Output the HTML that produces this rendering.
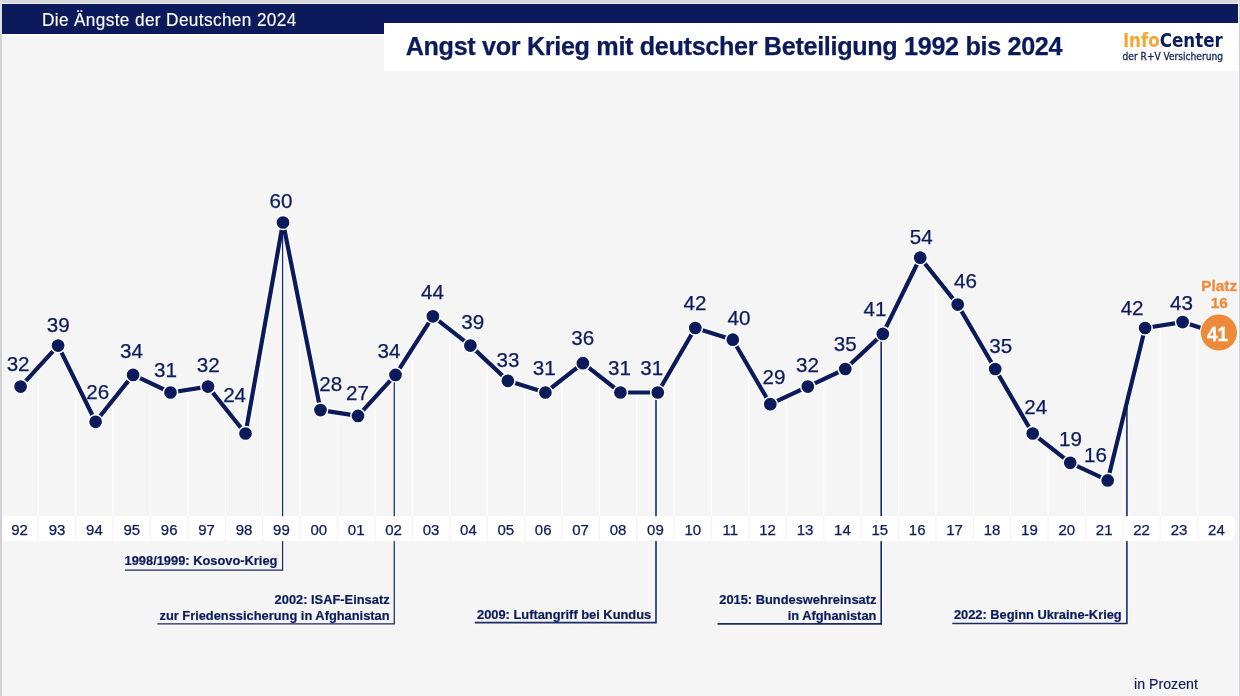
<!DOCTYPE html>
<html lang="de">
<head>
<meta charset="utf-8">
<title>Die Ängste der Deutschen 2024 – Angst vor Krieg mit deutscher Beteiligung</title>
<style>
html,body{margin:0;padding:0}
body{width:1240px;height:696px;position:relative;overflow:hidden;background:#f5f5f5;font-family:"Liberation Sans",sans-serif}
.frame-top{position:absolute;left:0;top:0;width:1240px;height:4px;background:linear-gradient(#d9d9db 0,#d9d9db 2.6px,#ebebed 2.6px,#ebebed 4px)}
.frame-left{position:absolute;left:0;top:0;width:2px;height:696px;background:linear-gradient(#dfdfe0 0,#dfdfe0 34px,#d2d2d5 34px,#d2d2d5 100%)}
.frame-right{position:absolute;left:1237.7px;top:0;width:2.3px;height:696px;background:linear-gradient(90deg,#fbfbfb 0,#fbfbfb 1px,#d4d4d8 1px,#cfcfd3 100%)}
.bar{position:absolute;left:2px;top:4px;width:1236px;height:29.9px;background:#0b1a5b}
.barline{position:absolute;left:2px;top:33.9px;width:382px;height:2.2px;background:#fdfdfd}
.title{position:absolute;left:384px;top:22.8px;width:854px;height:47.8px;background:#fff}
</style>
</head>
<body>
<div class="bar"></div><div class="barline"></div>
<div class="title"></div>
<svg width="1240" height="696" viewBox="0 0 1240 696" style="position:absolute;left:0;top:0;will-change:transform" font-family="'Liberation Sans', sans-serif">
<g stroke="#ffffff" stroke-width="1.2">
<line x1="38.3" y1="367.2" x2="38.3" y2="516.2"/>
<line x1="75.7" y1="381.4" x2="75.7" y2="516.2"/>
<line x1="113.1" y1="399.9" x2="113.1" y2="516.2"/>
<line x1="150.5" y1="383.1" x2="150.5" y2="516.2"/>
<line x1="187.9" y1="389.8" x2="187.9" y2="516.2"/>
<line x1="225.3" y1="408.2" x2="225.3" y2="516.2"/>
<line x1="262.7" y1="336.7" x2="262.7" y2="516.2"/>
<line x1="300.1" y1="308.1" x2="300.1" y2="516.2"/>
<line x1="337.5" y1="412.7" x2="337.5" y2="516.2"/>
<line x1="374.9" y1="397.4" x2="374.9" y2="516.2"/>
<line x1="412.3" y1="348.5" x2="412.3" y2="516.2"/>
<line x1="449.7" y1="329.4" x2="449.7" y2="516.2"/>
<line x1="487.1" y1="361.2" x2="487.1" y2="516.2"/>
<line x1="524.5" y1="385.9" x2="524.5" y2="516.2"/>
<line x1="561.9" y1="379.6" x2="561.9" y2="516.2"/>
<line x1="599.3" y1="376.0" x2="599.3" y2="516.2"/>
<line x1="636.7" y1="392.5" x2="636.7" y2="516.2"/>
<line x1="674.1" y1="364.5" x2="674.1" y2="516.2"/>
<line x1="711.5" y1="333.1" x2="711.5" y2="516.2"/>
<line x1="748.9" y1="367.4" x2="748.9" y2="516.2"/>
<line x1="786.3" y1="396.7" x2="786.3" y2="516.2"/>
<line x1="823.7" y1="379.1" x2="823.7" y2="516.2"/>
<line x1="861.1" y1="354.2" x2="861.1" y2="516.2"/>
<line x1="898.5" y1="301.9" x2="898.5" y2="516.2"/>
<line x1="935.9" y1="277.3" x2="935.9" y2="516.2"/>
<line x1="973.3" y1="331.3" x2="973.3" y2="516.2"/>
<line x1="1010.7" y1="395.7" x2="1010.7" y2="516.2"/>
<line x1="1048.1" y1="445.5" x2="1048.1" y2="516.2"/>
<line x1="1085.5" y1="470.0" x2="1085.5" y2="516.2"/>
<line x1="1122.9" y1="418.5" x2="1122.9" y2="516.2"/>
<line x1="1160.3" y1="325.6" x2="1160.3" y2="516.2"/>
<line x1="1197.7" y1="326.9" x2="1197.7" y2="516.2"/>
</g>
<polyline fill="none" stroke="#fcfcfc" stroke-width="6.8" stroke-linejoin="round" stroke-linecap="round" points="20.6,386.6 58.1,345.6 95.6,421.8 133.1,374.9 170.5,392.5 208.0,386.6 245.5,433.5 283.0,222.5 320.5,410.1 358.0,415.9 395.5,374.9 432.9,316.3 470.4,345.6 507.9,380.8 545.4,392.5 582.9,363.2 620.4,392.5 657.8,392.5 695.3,328.0 732.8,339.7 770.3,404.2 807.8,386.6 845.3,369.0 882.8,333.9 920.2,257.7 957.7,304.6 995.2,369.0 1032.7,433.5 1070.2,462.8 1107.7,480.4 1145.1,328.0 1182.6,322.1 1220.1,333.9"/>
<g fill="none" stroke="#fbfbfb" stroke-linejoin="miter">
<polyline stroke-width="1.2" points="283.8,222.5 283.8,571.2 125.0,571.2"/>
<polyline stroke-width="1.2" points="395.5,374.9 395.5,625.0 157.3,625.0"/>
<polyline stroke-width="1.2" points="657.4,392.5 657.4,624.0 474.8,624.0"/>
<polyline stroke-width="1.2" points="882.6,333.9 882.6,625.2 717.5,625.2"/>
<polyline stroke-width="1.2" points="1128.2,398.0 1128.2,624.9 952.3,624.9"/>
</g>
<g fill="none" stroke="#1b2a6b" stroke-linejoin="miter">
<polyline stroke-width="1.25" points="282.6,222.5 282.6,570.0 125.0,570.0"/>
<polyline stroke-width="1.25" points="394.3,374.9 394.3,623.8 157.3,623.8"/>
<polyline stroke-width="1.6" points="656.0,392.5 656.0,622.6 474.8,622.6"/>
<polyline stroke-width="1.6" points="881.2,333.9 881.2,623.9 717.5,623.9"/>
<polyline stroke-width="1.6" points="1126.9,398.0 1126.9,623.5 952.3,623.5"/>
</g>
<polyline fill="none" stroke="#0b1a5b" stroke-width="4.2" stroke-linejoin="round" stroke-linecap="round" points="20.6,386.6 58.1,345.6 95.6,421.8 133.1,374.9 170.5,392.5 208.0,386.6 245.5,433.5 283.0,222.5 320.5,410.1 358.0,415.9 395.5,374.9 432.9,316.3 470.4,345.6 507.9,380.8 545.4,392.5 582.9,363.2 620.4,392.5 657.8,392.5 695.3,328.0 732.8,339.7 770.3,404.2 807.8,386.6 845.3,369.0 882.8,333.9 920.2,257.7 957.7,304.6 995.2,369.0 1032.7,433.5 1070.2,462.8 1107.7,480.4 1145.1,328.0 1182.6,322.1 1220.1,333.9"/>
<g fill="#0b1a5b" stroke="#fcfcfc" stroke-width="1.5">
<circle cx="20.6" cy="386.6" r="7.1"/>
<circle cx="58.1" cy="345.6" r="7.1"/>
<circle cx="95.6" cy="421.8" r="7.1"/>
<circle cx="133.1" cy="374.9" r="7.1"/>
<circle cx="170.5" cy="392.5" r="7.1"/>
<circle cx="208.0" cy="386.6" r="7.1"/>
<circle cx="245.5" cy="433.5" r="7.1"/>
<circle cx="283.0" cy="222.5" r="7.1"/>
<circle cx="320.5" cy="410.1" r="7.1"/>
<circle cx="358.0" cy="415.9" r="7.1"/>
<circle cx="395.5" cy="374.9" r="7.1"/>
<circle cx="432.9" cy="316.3" r="7.1"/>
<circle cx="470.4" cy="345.6" r="7.1"/>
<circle cx="507.9" cy="380.8" r="7.1"/>
<circle cx="545.4" cy="392.5" r="7.1"/>
<circle cx="582.9" cy="363.2" r="7.1"/>
<circle cx="620.4" cy="392.5" r="7.1"/>
<circle cx="657.8" cy="392.5" r="7.1"/>
<circle cx="695.3" cy="328.0" r="7.1"/>
<circle cx="732.8" cy="339.7" r="7.1"/>
<circle cx="770.3" cy="404.2" r="7.1"/>
<circle cx="807.8" cy="386.6" r="7.1"/>
<circle cx="845.3" cy="369.0" r="7.1"/>
<circle cx="882.8" cy="333.9" r="7.1"/>
<circle cx="920.2" cy="257.7" r="7.1"/>
<circle cx="957.7" cy="304.6" r="7.1"/>
<circle cx="995.2" cy="369.0" r="7.1"/>
<circle cx="1032.7" cy="433.5" r="7.1"/>
<circle cx="1070.2" cy="462.8" r="7.1"/>
<circle cx="1107.7" cy="480.4" r="7.1"/>
<circle cx="1145.1" cy="328.0" r="7.1"/>
<circle cx="1182.6" cy="322.1" r="7.1"/>
</g>
<g fill="#ffffff">
<rect x="2.0" y="516.2" width="35.6" height="24.9"/>
<rect x="39.0" y="516.2" width="36.0" height="24.9"/>
<rect x="76.4" y="516.2" width="36.0" height="24.9"/>
<rect x="113.8" y="516.2" width="36.0" height="24.9"/>
<rect x="151.2" y="516.2" width="36.0" height="24.9"/>
<rect x="188.6" y="516.2" width="36.0" height="24.9"/>
<rect x="226.0" y="516.2" width="36.0" height="24.9"/>
<rect x="263.4" y="516.2" width="36.0" height="24.9"/>
<rect x="300.8" y="516.2" width="36.0" height="24.9"/>
<rect x="338.2" y="516.2" width="36.0" height="24.9"/>
<rect x="375.6" y="516.2" width="36.0" height="24.9"/>
<rect x="413.0" y="516.2" width="36.0" height="24.9"/>
<rect x="450.4" y="516.2" width="36.0" height="24.9"/>
<rect x="487.8" y="516.2" width="36.0" height="24.9"/>
<rect x="525.2" y="516.2" width="36.0" height="24.9"/>
<rect x="562.6" y="516.2" width="36.0" height="24.9"/>
<rect x="600.0" y="516.2" width="36.0" height="24.9"/>
<rect x="637.4" y="516.2" width="36.0" height="24.9"/>
<rect x="674.8" y="516.2" width="36.0" height="24.9"/>
<rect x="712.2" y="516.2" width="36.0" height="24.9"/>
<rect x="749.6" y="516.2" width="36.0" height="24.9"/>
<rect x="787.0" y="516.2" width="36.0" height="24.9"/>
<rect x="824.4" y="516.2" width="36.0" height="24.9"/>
<rect x="861.8" y="516.2" width="36.0" height="24.9"/>
<rect x="899.2" y="516.2" width="36.0" height="24.9"/>
<rect x="936.6" y="516.2" width="36.0" height="24.9"/>
<rect x="974.0" y="516.2" width="36.0" height="24.9"/>
<rect x="1011.4" y="516.2" width="36.0" height="24.9"/>
<rect x="1048.8" y="516.2" width="36.0" height="24.9"/>
<rect x="1086.2" y="516.2" width="36.0" height="24.9"/>
<rect x="1123.6" y="516.2" width="36.0" height="24.9"/>
<rect x="1161.0" y="516.2" width="36.0" height="24.9"/>
<polygon points="1198.4,516.2 1232.0,516.2 1236.7,528.7 1232.0,541.1 1198.4,541.1"/>
</g>
<g fill="#0b1a5b" stroke="#0b1a5b" stroke-width="0.25" font-size="15" text-anchor="middle">
<text x="19.6" y="534.7">92</text>
<text x="57.0" y="534.7">93</text>
<text x="94.4" y="534.7">94</text>
<text x="131.8" y="534.7">95</text>
<text x="169.2" y="534.7">96</text>
<text x="206.6" y="534.7">97</text>
<text x="244.0" y="534.7">98</text>
<text x="281.4" y="534.7">99</text>
<text x="318.8" y="534.7">00</text>
<text x="356.2" y="534.7">01</text>
<text x="393.6" y="534.7">02</text>
<text x="431.0" y="534.7">03</text>
<text x="468.4" y="534.7">04</text>
<text x="505.8" y="534.7">05</text>
<text x="543.2" y="534.7">06</text>
<text x="580.6" y="534.7">07</text>
<text x="618.0" y="534.7">08</text>
<text x="655.4" y="534.7">09</text>
<text x="692.8" y="534.7">10</text>
<text x="730.2" y="534.7">11</text>
<text x="767.6" y="534.7">12</text>
<text x="805.0" y="534.7">13</text>
<text x="842.4" y="534.7">14</text>
<text x="879.8" y="534.7">15</text>
<text x="917.2" y="534.7">16</text>
<text x="954.6" y="534.7">17</text>
<text x="992.0" y="534.7">18</text>
<text x="1029.4" y="534.7">19</text>
<text x="1066.8" y="534.7">20</text>
<text x="1104.2" y="534.7">21</text>
<text x="1141.6" y="534.7">22</text>
<text x="1179.0" y="534.7">23</text>
<text x="1216.4" y="534.7">24</text>
</g>
<circle cx="1218.9" cy="332.5" r="19.2" fill="#fcfcfc"/>
<circle cx="1218.9" cy="332.5" r="18.1" fill="#ee8b3b"/>
<text transform="translate(1217.4 340.6) scale(0.91 1)" font-size="20.7" font-weight="700" fill="#ffffff" stroke="#ffffff" stroke-width="0.35" text-anchor="middle">41</text>
<g fill="#ee8b3b" stroke="#ee8b3b" stroke-width="0.3" font-size="15.4" font-weight="700" text-anchor="middle"><text x="1219.2" y="290.5">Platz</text><text x="1219.3" y="308.3">16</text></g>
<g fill="#0b1a5b" stroke="#0b1a5b" stroke-width="0.25" font-size="20.6" text-anchor="middle">
<text x="18.1" y="370.8">32</text>
<text x="58.2" y="332.4">39</text>
<text x="97.8" y="398.5">26</text>
<text x="131.4" y="358.4">34</text>
<text x="165.5" y="376.8">31</text>
<text x="208.2" y="371.6">32</text>
<text x="234.6" y="402.0">24</text>
<text x="281.0" y="207.5">60</text>
<text x="330.7" y="391.3">28</text>
<text x="357.5" y="400.3">27</text>
<text x="389.0" y="357.5">34</text>
<text x="432.4" y="298.5">44</text>
<text x="472.7" y="328.9">39</text>
<text x="508.0" y="366.8">33</text>
<text x="544.2" y="374.9">31</text>
<text x="582.7" y="345.2">36</text>
<text x="619.4" y="375.0">31</text>
<text x="651.8" y="375.0">31</text>
<text x="694.9" y="310.3">42</text>
<text x="738.9" y="324.6">40</text>
<text x="773.9" y="383.8">29</text>
<text x="807.5" y="371.9">32</text>
<text x="845.2" y="351.4">35</text>
<text x="875.0" y="315.5">41</text>
<text x="921.3" y="244.0">54</text>
<text x="965.4" y="288.3">46</text>
<text x="1000.7" y="353.3">35</text>
<text x="1035.8" y="414.0">24</text>
<text x="1070.5" y="445.6">19</text>
<text x="1095.5" y="461.9">16</text>
<text x="1132.1" y="315.4">42</text>
<text x="1181.4" y="309.7">43</text>
</g>
<g fill="#0b1a5b" font-size="13.2" font-weight="700" text-anchor="end" stroke="#0b1a5b" stroke-width="0.2">
<text transform="translate(277.4 565.3) scale(0.975 1)">1998/1999: Kosovo-Krieg</text>
<text transform="translate(389.6 604.3) scale(0.975 1)">2002: ISAF-Einsatz</text>
<text transform="translate(389.6 619.5) scale(0.975 1)">zur Friedenssicherung in Afghanistan</text>
<text transform="translate(651.2 618.5) scale(0.975 1)">2009: Luftangriff bei Kundus</text>
<text transform="translate(876.4 604.3) scale(0.975 1)">2015: Bundeswehreinsatz</text>
<text transform="translate(876.4 619.5) scale(0.975 1)">in Afghanistan</text>
<text transform="translate(1121.7 619.3) scale(0.975 1)">2022: Beginn Ukraine-Krieg</text>
</g>
<text x="1134" y="689" font-size="14.2" fill="#0b1a5b" stroke="#0b1a5b" stroke-width="0.15">in Prozent</text>
<text transform="translate(41.9 25.9) scale(0.915 1)" font-size="18.8" letter-spacing="0.42" fill="#ffffff" stroke="#ffffff" stroke-width="0.15">Die Ängste der Deutschen 2024</text>
<text x="405.7" y="55.4" font-size="25.2" font-weight="700" letter-spacing="-0.33" fill="#0b1a5b" stroke="#0b1a5b" stroke-width="0.25">Angst vor Krieg mit deutscher Beteiligung 1992 bis 2024</text>
<text transform="translate(1122.9 47.4) scale(0.915 1)" font-family="'DejaVu Sans Condensed', 'DejaVu Sans', 'Liberation Sans', sans-serif" font-size="20.3" font-weight="700" textLength="109.1" lengthAdjust="spacingAndGlyphs" fill="#0b1a5b"><tspan fill="#f5a62e">Info</tspan>Center</text>
<text x="1122.6" y="60.3" font-family="'DejaVu Sans Condensed', 'DejaVu Sans', 'Liberation Sans', sans-serif" font-size="10.1" textLength="100.4" lengthAdjust="spacingAndGlyphs" fill="#1a2860" stroke="#1a2860" stroke-width="0.3">der R+V Versicherung</text>
</svg>
<div class="frame-top"></div><div class="frame-left"></div><div class="frame-right"></div>
</body>
</html>
